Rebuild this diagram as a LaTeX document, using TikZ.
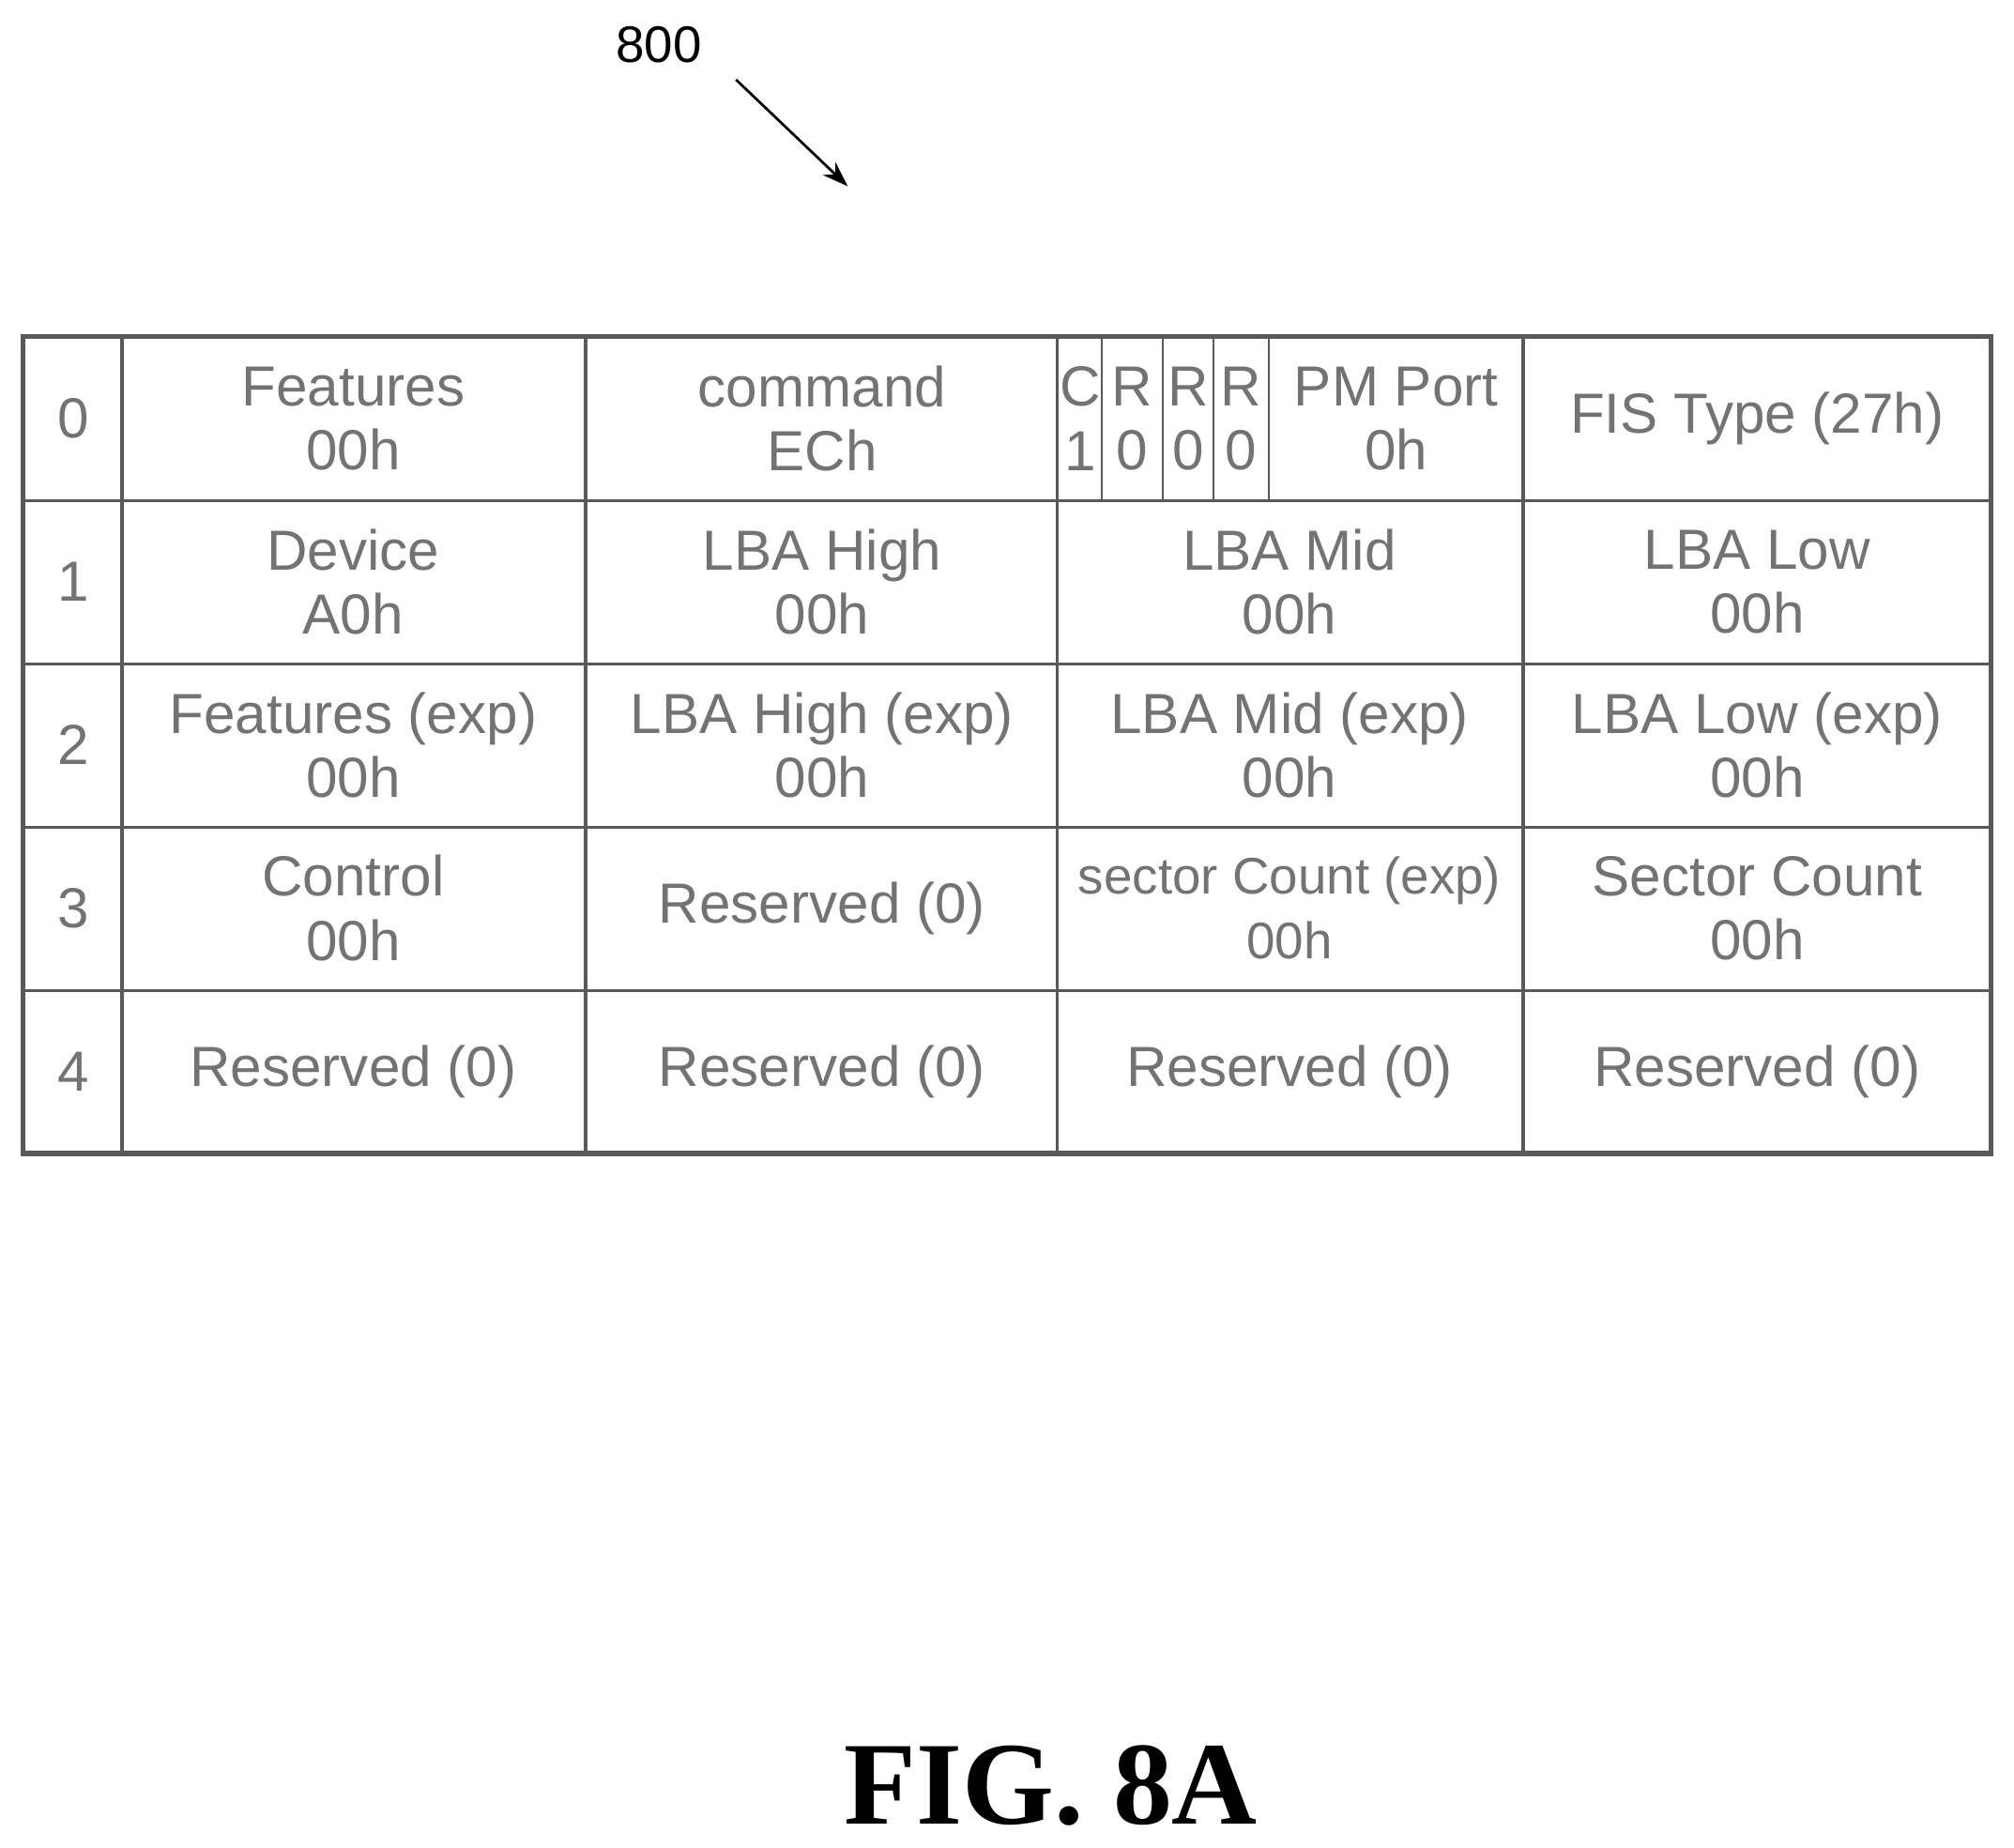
\documentclass[tikz,border=0pt]{standalone}
\usetikzlibrary{arrows.meta}
\usepackage{fontspec}
\setmainfont{Liberation Serif}
\setsansfont{Liberation Sans}
\begin{document}
\begin{tikzpicture}[x=1pt,y=-1pt,
  grid/.style={draw=black!65,line width=2.5pt},
  cell/.style={text=black!55,font=\sffamily\fontsize{44}{50}\selectfont,align=center,inner sep=0pt},
  small/.style={text=black!55,font=\sffamily\fontsize{44}{50}\selectfont,align=center,inner sep=0pt}]
\useasboundingbox (0,0) rectangle (1568,1438);
\node[font=\sffamily\fontsize{40}{44}\selectfont] (lbl) at (513,35) {800};
\coordinate (a1) at (573,62);
\coordinate (a2) at (660,145);
\draw[line width=2pt,-{Stealth[length=20pt,width=14pt]}] (a1) -- (a2);
% grid
\draw[grid,line width=4pt] (18,262) rectangle (1550,898);
\foreach \y in {390,517,644,771} \draw[grid] (18,\y) -- (1550,\y);
\foreach \x in {95,456,823,1186} \draw[grid] (\x,262) -- (\x,898);
\foreach \x in {858,905,945,988} \draw[grid,line width=1.5pt] (\x,262) -- (\x,390);
% row indices
\foreach \i/\y in {0/326,1/453,2/580,3/707,4/834} \node[cell] (r\i) at (57,\y) {\i};
% row 0
\node[cell] (f0) at (275,326) {Features\\00h};
\node[cell] (c0) at (640,326) {command\\ECh};
\node[small] (cC) at (841,326) {C\\1};
\node[small] (cR1) at (881,326) {R\\0};
\node[small] (cR2) at (925,326) {R\\0};
\node[small] (cR3) at (966,326) {R\\0};
\node[cell] (pm) at (1087,326) {PM Port\\0h};
\node[cell] (fis) at (1368,326) {FIS Type (27h)};
% row 1
\node[cell] (d1) at (275,453) {Device\\A0h};
\node[cell] (h1) at (640,453) {LBA High\\00h};
\node[cell] (m1) at (1004,453) {LBA Mid\\00h};
\node[cell] (l1) at (1368,453) {LBA Low\\00h};
% row 2
\node[cell] (f2) at (275,580) {Features (exp)\\00h};
\node[cell] (h2) at (640,580) {LBA High (exp)\\00h};
\node[cell] (m2) at (1004,580) {LBA Mid (exp)\\00h};
\node[cell] (l2) at (1368,580) {LBA Low (exp)\\00h};
% row 3
\node[cell] (c3) at (275,707) {Control\\00h};
\node[cell] (r3) at (640,707) {Reserved (0)};
\node[cell,font=\sffamily\fontsize{40}{50}\selectfont] (s3) at (1004,707) {sector Count (exp)\\00h};
\node[cell] (t3) at (1368,707) {Sector Count\\00h};
% row 4
\node[cell] (a4) at (275,834) {Reserved (0)};
\node[cell] (b4) at (640,834) {Reserved (0)};
\node[cell] (c4) at (1004,834) {Reserved (0)};
\node[cell] (d4) at (1368,834) {Reserved (0)};
\node[font=\rmfamily\bfseries\fontsize{92}{100}\selectfont] (fig) at (818,1390) {FIG. 8A};
\end{tikzpicture}
\end{document}
